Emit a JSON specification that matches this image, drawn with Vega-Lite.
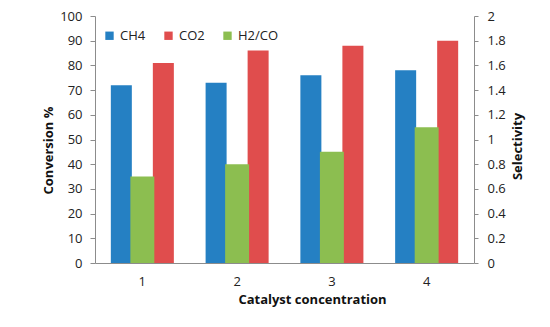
{
  "$schema": "https://vega.github.io/schema/vega-lite/v6.json",
  "width": 379,
  "height": 247,
  "autosize": {"type": "none"},
  "padding": {"left": 95, "top": 16, "right": 76, "bottom": 64},
  "background": "white",
  "config": {
    "view": {"stroke": null},
    "font": "Open Sans",
    "axis": {
      "grid": false,
      "domainColor": "#8c8c8c",
      "tickColor": "#8c8c8c",
      "labelColor": "#222222",
      "labelFontSize": 13,
      "labelFont": "Open Sans",
      "titleFont": "Open Sans",
      "titleFontSize": 13,
      "titleFontWeight": "bold",
      "titleColor": "#111111"
    }
  },
  "data": {
    "values": [
      {"cat": "1", "series": "CH4", "value": 72},
      {"cat": "2", "series": "CH4", "value": 73},
      {"cat": "3", "series": "CH4", "value": 76},
      {"cat": "4", "series": "CH4", "value": 78},
      {"cat": "1", "series": "CO2", "value": 81},
      {"cat": "2", "series": "CO2", "value": 86},
      {"cat": "3", "series": "CO2", "value": 88},
      {"cat": "4", "series": "CO2", "value": 90},
      {"cat": "1", "series": "H2/CO", "value": 0.7},
      {"cat": "2", "series": "H2/CO", "value": 0.8},
      {"cat": "3", "series": "H2/CO", "value": 0.9},
      {"cat": "4", "series": "H2/CO", "value": 1.1}
    ]
  },
  "layer": [
    {
      "transform": [{"filter": "datum.series != 'H2/CO'"}],
      "mark": {"type": "bar"},
      "encoding": {
        "x": {
          "field": "cat",
          "type": "nominal",
          "scale": {"paddingInner": 0.335, "paddingOuter": 0.167},
          "axis": {
            "title": "Catalyst concentration",
            "labelAngle": 0,
            "ticks": false,
            "labelPadding": 12,
            "titlePadding": 5,
            "titleX": 217
          }
        },
        "xOffset": {"field": "series", "scale": {"domain": ["CH4", "gap", "CO2"]}},
        "y": {
          "field": "value",
          "type": "quantitative",
          "scale": {"domain": [0, 100]},
          "axis": {
            "title": "Conversion %",
            "values": [0, 10, 20, 30, 40, 50, 60, 70, 80, 90, 100],
            "tickSize": 5,
            "labelPadding": 8,
            "titlePadding": 4,
            "titleY": 134
          }
        },
        "color": {
          "field": "series",
          "type": "nominal",
          "scale": {"domain": ["CH4", "CO2", "H2/CO"], "range": ["#2580C3", "#E04D4D", "#8CBE50"]},
          "legend": {
            "orient": "none",
            "legendX": 8,
            "legendY": 13,
            "direction": "horizontal",
            "title": null,
            "symbolType": "square",
            "symbolSize": 70,
            "symbolStrokeWidth": 0,
            "labelFontSize": 13,
            "labelFont": "Open Sans",
            "labelColor": "#222222",
            "labelOffset": 4,
            "columnPadding": 16,
            "padding": 0
          }
        }
      }
    },
    {
      "transform": [{"filter": "datum.series == 'H2/CO'"}],
      "mark": {"type": "bar", "width": {"band": 0.38}},
      "encoding": {
        "x": {"field": "cat", "type": "nominal"},
        "y": {
          "field": "value",
          "type": "quantitative",
          "scale": {"domain": [0, 2]},
          "axis": {
            "orient": "right",
            "title": "Selectivity",
            "values": [0, 0.2, 0.4, 0.6, 0.8, 1, 1.2, 1.4, 1.6, 1.8, 2],
            "format": "~g",
            "tickSize": 4,
            "labelPadding": 9,
            "titlePadding": 6,
            "titleAngle": 270,
            "titleBaseline": "top",
            "titleY": 130
          }
        },
        "color": {"field": "series", "type": "nominal"}
      }
    }
  ],
  "resolve": {"scale": {"y": "independent"}}
}
